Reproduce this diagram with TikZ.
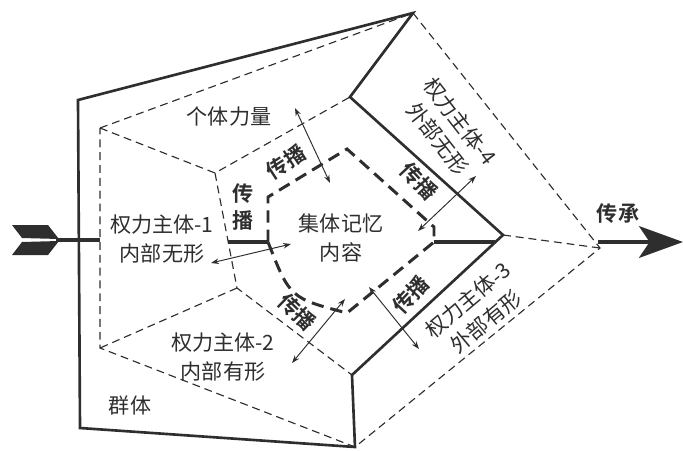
\documentclass[tikz,border=0pt]{standalone}
\usepackage{fontspec}
\setmainfont{Noto Sans CJK SC}[BoldFont={Noto Sans CJK SC Bold}]
\usetikzlibrary{arrows.meta}
\definecolor{ink}{gray}{0.18}

\begin{document}
\begin{tikzpicture}
        [%%%%%%%%%%%%%%%%%%%%%%%%%%%%%%
        x=0.02cm, y=-0.02cm,
        frame/.style={draw=ink, line width=1.5pt, line join=miter},
        dline/.style={draw=ink, line width=0.65pt, dash pattern=on 4.5pt off 2.8pt},
        core/.style={draw=ink, line width=1.7pt, dash pattern=on 7pt off 4pt},
        bar/.style={draw=ink, line width=2.1pt},
        dbl/.style={draw=ink, line width=0.55pt, {Stealth[length=4.5pt,width=3.2pt]}-{Stealth[length=4.5pt,width=3.2pt]}},
        lbl/.style={font=\fontsize{12}{17}\selectfont, text=ink, inner sep=1pt, align=center},
        slant/.style={lbl, font=\fontsize{12}{16}\selectfont},
        spread/.style={lbl, font=\fontsize{12}{15}\selectfont\bfseries},
        ]%%%%%%%%%%%%%%%%%%%%%%%%%%%%%%
        \useasboundingbox (0,0) rectangle (683,450);

        % frame of the group
        \coordinate (g1) at (78,100);
        \coordinate (top) at (413,13);
        \coordinate (bot) at (355,447);
        \coordinate (g5) at (80,428);
        \coordinate (o1) at (100,128);
        \coordinate (o3) at (600,248);
        \coordinate (o5) at (100,348);
        \coordinate (i1) at (215,173);
        \coordinate (i2) at (350,97);
        \coordinate (i3) at (503,235);
        \coordinate (i4) at (352,375);
        \coordinate (i5) at (237,288);

        \draw[frame] (g1) -- (top) -- (i2) -- (i3) -- (i4) -- (bot) -- (g5) -- cycle;
        \draw[dline] (o1) -- (top) -- (o3) -- (bot) -- (o5) -- cycle;
        \draw[dline] (o1) -- (i1) -- (i2) (i1) -- (i5) -- (i4) (i5) -- (o5) (i3) -- (o3);

        % memory core
        \coordinate (c1) at (268,242);
        \coordinate (c2) at (268,197);
        \coordinate (c3) at (347,149);
        \coordinate (c4) at (434,227);
        \coordinate (c5) at (434,242);
        \coordinate (c6) at (347,313);
        \coordinate (k1) at (228,242);
        \coordinate (k2) at (495,242);
        \draw[core] (c1) -- (c2) -- (c3) -- (c4) -- (c5) -- (c6) .. controls (290,298) .. (c1);
        \draw[bar] (k1) -- (c1);
        \draw[bar] (c5) -- (k2);

        % arrows in and out
        \coordinate (in0) at (56,240);
        \coordinate (in1) at (100,240);
        \coordinate (out0) at (598,242);
        \coordinate (out1) at (683,242);
        \fill[ink] (12,225) -- (48,225) -- (59,239) -- (22,238) -- cycle;
        \fill[ink] (22,242) -- (59,241) -- (48,255) -- (12,255) -- cycle;
        \draw[bar] (in0) -- (in1);
        \draw[draw=ink, line width=2.6pt, -{Stealth[length=25pt,width=18pt,inset=6pt]}] (out0) -- (out1);

        \coordinate (a1) at (295,108);  \coordinate (b1) at (330,183);
        \coordinate (a2) at (211,263);  \coordinate (b2) at (291,244);
        \coordinate (a3) at (418,231);  \coordinate (b3) at (476,176);
        \coordinate (a4) at (369,287);  \coordinate (b4) at (419,349);
        \coordinate (a5) at (345,299);  \coordinate (b5) at (292,363);
        \foreach \i in {1,...,5}{
          \draw[dbl] (a\i) -- (b\i);
        }

        % labels
        \node[lbl] (force) at (229,117) {个体力量};
        \node[lbl] (sub1) at (162,239) {权力主体-1\\内部无形};
        \node[lbl] (sub2) at (223,357) {权力主体-2\\内部有形};
        \node[slant, rotate=40] (sub3) at (477,311) {权力主体-3\\外部有形};
        \node[slant, rotate=-52] (sub4) at (449,130) {权力主体-4\\外部无形};
        \node[lbl] (group) at (130,405) {群体};
        \node[lbl] (memory) at (341,238) {集体记忆\\内容};
        \node[spread] (inherit) at (618,214) {传承};
        \node[spread] (spread2) at (243,207) {传\\播};
        \foreach \p/\r/\n in {{(286,162)}/33/1, {(419,181)}/-47/3, {(411,295)}/47/4, {(297,312)}/-44/5}{
          \node[spread, rotate=\r] (spread\n) at \p {传播};
        }

      \end{tikzpicture}
\end{document}
